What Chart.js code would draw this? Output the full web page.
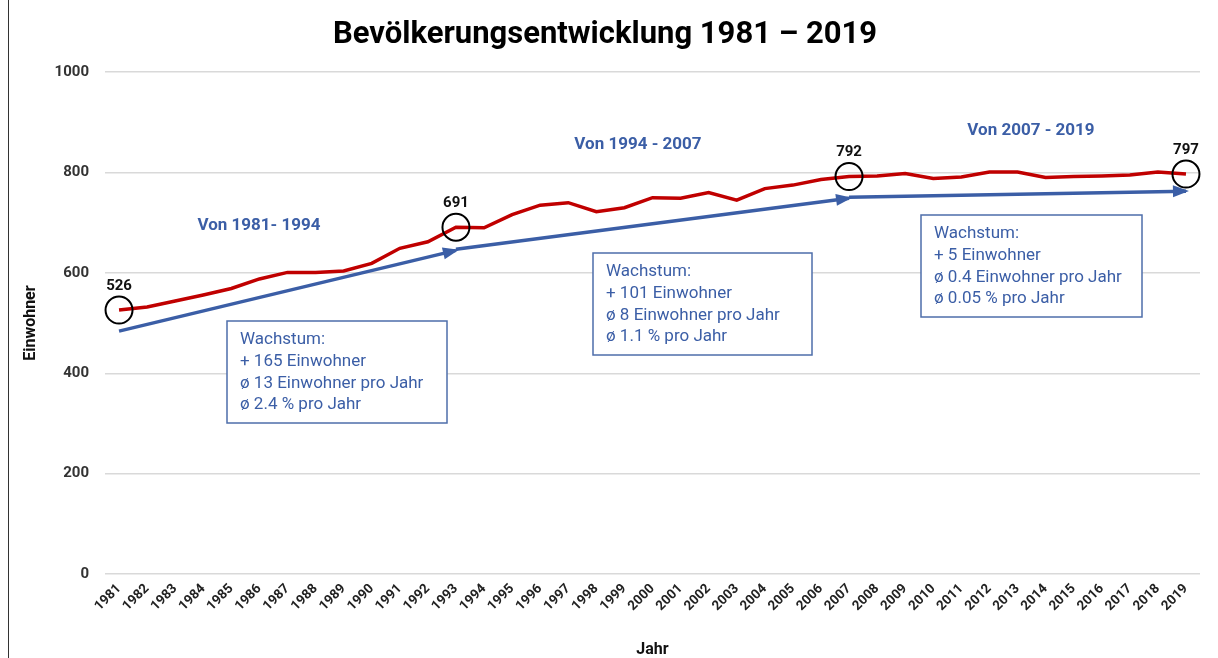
<!DOCTYPE html>
<html>
<head>
<meta charset="utf-8">
<title>Bevölkerungsentwicklung 1981 – 2019</title>
<script src="https://cdn.jsdelivr.net/npm/chart.js@4.4.1/dist/chart.umd.min.js"></script>
<style>
    html, body { margin: 0; padding: 0; background: #fff; }
    #wrap { position: relative; width: 1218px; height: 658px; overflow: hidden; }
    #frame { position: absolute; left: 8px; top: 0; width: 1px; height: 658px; background: #333; }
    #chart { position: absolute; left: 0; top: 0; }
</style>
</head>
<body>
<div id="wrap">
    <canvas id="chart" width="1218" height="658"></canvas>
    <div id="frame"></div>
</div>
<script>
// Jahre und Einwohner
const years = ['1981','1982','1983','1984','1985','1986','1987','1988','1989','1990',
               '1991','1992','1993','1994','1995','1996','1997','1998','1999','2000',
               '2001','2002','2003','2004','2005','2006','2007','2008','2009','2010',
               '2011','2012','2013','2014','2015','2016','2017','2018','2019'];
const population = [526, 532, 544, 556, 569, 588, 601, 601, 604, 619,
                    649, 662, 691, 690, 716, 735, 740, 722, 730, 750,
                    749, 760, 745, 768, 775, 786, 792, 793, 798, 788,
                    791, 801, 801, 790, 792, 793, 795, 801, 797];

// markierte Punkte
const markedYears = ['1981', '1993', '2007', '2019'];
const markedValues = [526, 691, 792, 797];

// Trendpfeile
const trendStartYears = ['1981', '1993', '2007'];
const trendEndYears = ['1993', '2007', '2019'];
const trendStartValues = [484, 647, 751];
const trendEndValues = [645, 749, 763];

// Texte
const periodTitles = ['Von 1981- 1994', 'Von 1994 - 2007', 'Von 2007 - 2019'];
const growthTexts = [
    ['Wachstum:', '+ 165 Einwohner', 'ø 13 Einwohner pro Jahr', 'ø 2.4 % pro Jahr'],
    ['Wachstum:', '+ 101 Einwohner', 'ø 8 Einwohner pro Jahr', 'ø 1.1 % pro Jahr'],
    ['Wachstum:', '+ 5 Einwohner', 'ø 0.4 Einwohner pro Jahr', 'ø 0.05 % pro Jahr']
];
const yTicks = [0, 200, 400, 600, 800, 1000];

// Positionen der Beschriftungen (Pixel)
const periodTitlePos = [[259, 226], [638, 145], [1031, 131]];
const boxPos = [[227, 321, 220, 102], [593, 253, 219, 102], [921, 215, 221, 102]];

const BLUE = '#3b5ea6';
const FONT = 'Roboto';

const arrowDatasets = trendStartYears.map((y, i) => ({
    label: 'Trend ' + (i + 1),
    data: [{ x: y, y: trendStartValues[i] }, { x: trendEndYears[i], y: trendEndValues[i] }],
    borderColor: BLUE,
    borderWidth: 3.5,
    pointRadius: 0,
    isArrow: true
}));

const annotations = {
    id: 'annotations',
    afterDatasetsDraw(chart) {
        const ctx = chart.ctx;
        ctx.save();

        // Pfeilspitzen
        chart.data.datasets.forEach((ds, i) => {
            if (!ds.isArrow) return;
            const pts = chart.getDatasetMeta(i).data;
            const a = pts[0], b = pts[1];
            const ang = Math.atan2(b.y - a.y, b.x - a.x);
            const len = 13, w = 6;
            ctx.fillStyle = BLUE;
            ctx.beginPath();
            ctx.moveTo(b.x + 3 * Math.cos(ang), b.y + 3 * Math.sin(ang));
            ctx.lineTo(b.x - len * Math.cos(ang) - w * Math.sin(ang), b.y - len * Math.sin(ang) + w * Math.cos(ang));
            ctx.lineTo(b.x - len * Math.cos(ang) + w * Math.sin(ang), b.y - len * Math.sin(ang) - w * Math.cos(ang));
            ctx.closePath();
            ctx.fill();
        });

        // Werte über den Kreisen
        const x = chart.scales.x, y = chart.scales.y;
        ctx.fillStyle = '#111';
        ctx.font = `bold 15px ${FONT}`;
        ctx.textAlign = 'center';
        ctx.textBaseline = 'middle';
        markedYears.forEach((yr, i) => {
            ctx.fillText(String(markedValues[i]), x.getPixelForValue(years.indexOf(yr)), y.getPixelForValue(markedValues[i]) - 24);
        });

        // Zeitraum-Überschriften
        ctx.fillStyle = BLUE;
        ctx.font = `bold 17px ${FONT}`;
        periodTitles.forEach((t, i) => ctx.fillText(t, periodTitlePos[i][0], periodTitlePos[i][1]));

        // Textboxen
        boxPos.forEach(([bx, by, bw, bh], i) => {
            ctx.fillStyle = '#fff';
            ctx.fillRect(bx, by, bw, bh);
            ctx.strokeStyle = '#4e6eaa';
            ctx.lineWidth = 1.5;
            ctx.strokeRect(bx, by, bw, bh);
            ctx.fillStyle = BLUE;
            ctx.font = `17px ${FONT}`;
            ctx.textAlign = 'left';
            growthTexts[i].forEach((line, j) => ctx.fillText(line, bx + 13, by + 19 + j * 21.7));
        });
        ctx.restore();
    }
};

new Chart(document.getElementById('chart'), {
    type: 'line',
    data: {
        labels: years,
        datasets: [
            {
                label: 'Markierung',
                data: markedYears.map((yr, i) => ({ x: yr, y: markedValues[i] })),
                showLine: false,
                pointStyle: 'circle',
                pointRadius: 13.5,
                pointBorderColor: '#000',
                pointBorderWidth: 2,
                pointBackgroundColor: 'rgba(0,0,0,0)'
            },
            {
                label: 'Einwohner',
                data: population,
                borderColor: '#c00000',
                borderWidth: 3.5,
                pointRadius: 0,
                tension: 0
            },
            ...arrowDatasets
        ]
    },
    options: {
        responsive: false,
        animation: false,
        layout: { padding: { left: 10, right: 18, top: 0, bottom: 0 } },
        plugins: {
            legend: { display: false },
            tooltip: { enabled: false },
            title: {
                display: true,
                text: 'Bevölkerungsentwicklung 1981 – 2019',
                color: '#000',
                font: { family: FONT, size: 31, weight: 'bold' },
                padding: { top: 17, bottom: 18 }
            }
        },
        scales: {
            x: {
                offset: true,
                grid: { display: false, drawTicks: false },
                border: { display: false },
                ticks: {
                    autoSkip: false, maxRotation: 45, minRotation: 45, padding: 7,
                    color: '#222', font: { family: FONT, size: 13.5, weight: 'bold' }
                },
                title: {
                    display: true, text: 'Jahr', color: '#111',
                    font: { family: FONT, size: 16, weight: 'bold', lineHeight: 1 },
                    padding: { top: 0, bottom: 0 }
                },
                afterFit(s) { s.height = 84; }
            },
            y: {
                min: 0, max: 1000,
                afterBuildTicks(s) { s.ticks = yTicks.map(v => ({ value: v })); },
                grid: { color: '#d9d9d9', lineWidth: 1.5, drawTicks: false },
                border: { display: false },
                ticks: {
                    padding: 16, color: '#333',
                    font: { family: FONT, size: 15, weight: 'bold' },
                    callback: v => String(v)
                },
                title: {
                    display: true, text: 'Einwohner', color: '#111',
                    font: { family: FONT, size: 16, weight: 'bold' },
                    padding: { top: 11, bottom: 0 }
                },
                afterFit(s) { s.width = 95; }
            }
        }
    },
    plugins: [annotations]
});
</script>
</body>
</html>
